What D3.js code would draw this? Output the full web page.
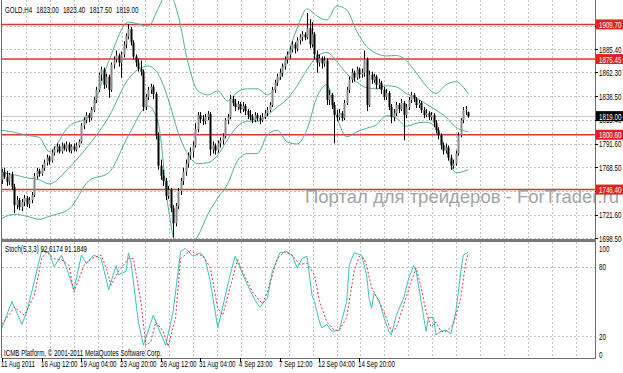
<!DOCTYPE html>
<html>
<head>
<meta charset="utf-8">
<script src="https://cdnjs.cloudflare.com/ajax/libs/d3/7.8.5/d3.min.js"></script>
<style>
  body { margin: 0; background: #fff; }
  svg { display: block; }
  text { font-family: "Liberation Sans", Arial, sans-serif; }
</style>
</head>
<body>
<svg id="chart"></svg>
<script>
// ---- data ----
const symbol = "GOLD,H4";
const lastQuote = ["1823.00", "1823.40", "1817.50", "1819.00"];

// H4 bars: [open, high, low, close]
const ohlc = [
  [1756,1767,1752,1764],[1764,1768,1757,1759],[1759,1765,1750,1754],[1754,1763,1751,1761],[1761,1764,1746,1749],
  [1749,1752,1723,1731],[1731,1740,1727,1736],[1736,1738,1726,1729],[1729,1737,1725,1734],[1734,1741,1730,1738],
  [1738,1740,1729,1732],[1732,1739,1728,1736],[1736,1744,1733,1741],[1741,1763,1739,1760],[1760,1768,1757,1765],
  [1765,1767,1759,1762],[1762,1771,1760,1768],[1768,1776,1765,1773],[1773,1781,1770,1778],[1778,1780,1771,1775],
  [1775,1786,1773,1783],[1783,1789,1780,1786],[1786,1792,1783,1789],[1789,1791,1782,1784],[1784,1793,1782,1790],
  [1790,1792,1785,1787],[1787,1794,1784,1791],[1791,1793,1783,1785],[1785,1791,1782,1789],[1789,1792,1784,1786],
  [1786,1793,1784,1790],[1790,1796,1788,1794],[1794,1812,1792,1810],[1810,1818,1806,1815],[1815,1823,1812,1820],
  [1820,1822,1813,1817],[1817,1828,1815,1825],[1825,1838,1823,1835],[1835,1848,1832,1845],[1845,1862,1843,1860],
  [1860,1868,1854,1865],[1865,1867,1846,1850],[1850,1861,1847,1858],[1858,1860,1837,1845],[1845,1872,1843,1870],
  [1870,1878,1866,1875],[1875,1884,1872,1879],[1879,1881,1868,1872],[1872,1883,1857,1880],[1880,1893,1877,1890],
  [1890,1901,1886,1898],[1898,1910,1895,1905],[1905,1907,1889,1892],[1892,1894,1875,1878],[1878,1880,1868,1872],
  [1872,1876,1863,1866],[1866,1874,1859,1863],[1863,1865,1824,1828],[1828,1841,1825,1838],[1838,1848,1835,1845],
  [1845,1851,1841,1848],[1848,1850,1836,1841],[1841,1843,1796,1800],[1800,1803,1766,1770],[1770,1776,1756,1760],
  [1760,1766,1750,1755],[1755,1758,1736,1740],[1740,1750,1737,1746],[1746,1748,1724,1728],[1728,1731,1699,1713],
  [1713,1733,1710,1730],[1730,1748,1727,1745],[1745,1758,1741,1755],[1755,1768,1751,1764],[1764,1776,1760,1772],
  [1772,1783,1768,1780],[1780,1788,1776,1784],[1784,1794,1778,1790],[1790,1812,1788,1806],[1806,1823,1803,1820],
  [1820,1823,1812,1816],[1816,1820,1810,1814],[1814,1821,1811,1818],[1818,1824,1815,1821],[1821,1823,1780,1786],
  [1786,1794,1782,1790],[1790,1792,1781,1785],[1785,1795,1783,1792],[1792,1798,1788,1795],[1795,1802,1791,1799],
  [1799,1817,1797,1815],[1815,1821,1811,1818],[1818,1840,1816,1836],[1836,1839,1829,1832],[1832,1836,1824,1828],
  [1828,1834,1825,1831],[1831,1833,1822,1826],[1826,1833,1823,1829],[1829,1831,1820,1824],[1824,1826,1816,1820],
  [1820,1825,1815,1818],[1818,1821,1812,1815],[1815,1823,1813,1820],[1820,1822,1814,1817],[1817,1820,1811,1815],
  [1815,1822,1813,1818],[1818,1825,1816,1822],[1822,1828,1819,1825],[1825,1833,1823,1830],[1830,1848,1828,1845],
  [1845,1855,1842,1852],[1852,1861,1849,1858],[1858,1866,1855,1862],[1862,1871,1858,1868],[1868,1878,1865,1875],
  [1875,1883,1871,1880],[1880,1888,1876,1885],[1885,1893,1882,1890],[1890,1892,1881,1886],[1886,1897,1883,1894],
  [1894,1900,1890,1897],[1897,1903,1893,1900],[1900,1902,1894,1897],[1897,1921,1895,1906],[1906,1915,1886,1890],
  [1890,1912,1887,1900],[1900,1902,1875,1880],[1880,1884,1862,1872],[1872,1880,1868,1876],[1876,1878,1866,1871],
  [1871,1878,1868,1874],[1874,1876,1830,1835],[1835,1845,1830,1840],[1840,1842,1826,1830],[1830,1833,1792,1820],
  [1820,1825,1814,1818],[1818,1826,1815,1822],[1822,1824,1814,1817],[1817,1835,1815,1832],[1832,1848,1830,1845],
  [1845,1858,1842,1855],[1855,1866,1852,1862],[1862,1864,1853,1857],[1857,1868,1855,1865],[1865,1867,1856,1860],
  [1860,1866,1857,1862],[1862,1884,1858,1875],[1875,1877,1824,1830],[1830,1864,1828,1860],[1860,1863,1851,1855],
  [1855,1861,1852,1858],[1858,1860,1846,1850],[1850,1856,1846,1852],[1852,1854,1841,1845],[1845,1848,1835,1838],
  [1838,1846,1835,1842],[1842,1844,1825,1828],[1828,1831,1812,1818],[1818,1826,1814,1822],[1822,1833,1819,1830],
  [1830,1832,1822,1826],[1826,1836,1824,1832],[1832,1834,1795,1820],[1820,1831,1817,1828],[1828,1838,1825,1835],
  [1835,1843,1832,1840],[1840,1842,1833,1836],[1836,1838,1827,1830],[1830,1835,1827,1832],[1832,1834,1822,1825],
  [1825,1828,1817,1820],[1820,1826,1818,1822],[1822,1824,1815,1818],[1818,1823,1815,1820],[1820,1822,1808,1812],
  [1812,1815,1802,1805],[1805,1808,1796,1800],[1800,1802,1786,1790],[1790,1793,1781,1785],[1785,1792,1782,1788],
  [1788,1790,1775,1778],[1778,1781,1766,1770],[1770,1776,1767,1772],[1772,1785,1770,1782],[1782,1803,1780,1800],
  [1800,1817,1798,1815],[1815,1828,1812,1825],[1825,1829,1820,1826],[1823,1823.4,1817.5,1819]
];

// Bollinger Bands (20,2), sampled at these bars
const bbBars   = [0,5,10,15,19,27,35,43,51,59,63,67,71,75,79,83,87,91,95,99,103,107,111,115,119,123,127,131,135,139,143,147,151,155,159,163,167,171,175,179,183,188];
const bbUpper  = [1805,1803,1800,1798,1784,1809,1819,1873,1912,1908,1925.5,1942.5,1919,1872,1844,1840,1844,1834,1843,1846,1846,1840,1851,1878,1906,1925,1918,1914,1928,1924,1903,1888,1881,1878.5,1879,1874,1862,1849,1841.5,1850,1853,1841];
const bbMiddle = [1763,1761,1758,1756,1752,1768,1790.5,1818,1856,1868.5,1860.5,1836,1803,1781,1772,1773,1780.5,1796,1809,1814,1814,1820,1828,1836,1849,1865,1878,1882,1873,1861,1853,1847,1846,1849,1848,1841.5,1837,1831,1825,1818,1808,1803.6];
const bbLower  = [1718,1722,1720,1717,1720,1727,1755,1763,1800,1829,1812,1729,1686.5,1690,1700.5,1722,1738,1752,1775,1782,1782,1800.5,1805,1793.5,1791.5,1806,1838,1850,1818,1798.5,1803.5,1807,1810.5,1819.5,1817,1809,1812,1813,1808,1786,1763,1766];

// Stochastic (5,3,3)
const stochMainBars = [0,4,8,10,13,16,19,21,24,26,29,32,34,37,40,43,46,47,50,51,52,55,57,61,63,66,69,72,74,77,80,82,84,87,88,92,94,96,99,102,104,107,109,112,115,117,119,121,123,125,126,128,129,131,133,136,139,140,142,145,147,148,149,150,152,154,156,157,159,162,164,166,167,169,171,172,174,175,177,179,181,183,185,186,188];
const stochMain     = [27,50,30,41,67,94,92,80,90,79,60,90,83,90,87,60,81,73,76,92,84,32,12,38,27,12,41,93,96,89,92,86,67,27,36,73,89,79,64,51,45,53,76,92,93,90,79,87,89,55,50,32,27,30,24,25,50,81,92,90,73,53,44,57,51,36,24,21,38,53,70,81,76,50,24,36,36,21,24,25,22,41,76,90,92.6174];
const stochSignalBars = [0,5,9,13,16,18,21,24,27,29,33,36,40,42,44,47,51,53,56,58,60,62,65,67,70,72,76,79,81,84,87,89,92,95,97,101,105,107,111,114,117,120,123,126,128,131,134,136,139,142,144,146,147,149,152,154,157,159,162,165,167,169,171,173,175,177,179,182,185,187,188];
const stochSignal     = [30,45,38,55,87,93,87,86,81,58,81,87,90,79,64,76,87,87,50,12,15,32,24,11,36,87,94,90,90,79,44,38,62,86,76,58,48,58,87,93,90,82,83,73,50,32,25,25,36,76,89,87,81,62,50,41,24,27,47,67,79,62,41,28,32,24,24,30,53,84,91.1849];
const stochLevels = [80, 20];
const stochScaleLabels = [100, 80, 20, 0];

const priceTicks = [1908.5, 1885.4, 1862.3, 1838.5, 1815.4, 1791.6, 1768.5, 1745.4, 1721.6, 1698.5];
const levelLines = [1909.70, 1875.45, 1800.60, 1746.40];

const timeLabels = ["11 Aug 2011", "16 Aug 12:00", "19 Aug 04:00", "23 Aug 20:00", "26 Aug 12:00",
                    "31 Aug 04:00", "4 Sep 23:00", "7 Sep 12:00", "12 Sep 04:00", "14 Sep 20:00"];
const timeLabelBars = [0, 16, 32, 48, 64, 80, 96, 112, 128, 144];

// ---- layout ----
const W = 623, H = 373;
const left = 2, axisX = 595;
const mainBottom = 239, subTop = 242, subBottom = 358;
const SX = 0.69;          // screenshot text is squeezed horizontally
const gridStep = 23.9;

const svg = d3.select("#chart").attr("width", W).attr("height", H);

const x = d3.scaleLinear().domain([0, 188]).range([2, 2 + 188 * 2.48]);
const y = d3.scaleLinear().domain([1698.5, 1885.4]).range([238, 49]);
const ys = d3.scaleLinear().domain([0, 100]).range([359.1, 243.6]);

const defs = svg.append("defs");
defs.append("clipPath").attr("id", "clipMain")
  .append("rect").attr("x", left).attr("y", 0).attr("width", axisX - left).attr("height", mainBottom);
defs.append("clipPath").attr("id", "clipSub")
  .append("rect").attr("x", left).attr("y", subTop).attr("width", axisX - left).attr("height", subBottom - subTop);

function label(g, tx, ty, txt, size, fill) {
  return g.append("text")
    .attr("transform", `translate(${tx},${ty}) scale(${SX},1)`)
    .attr("font-size", size)
    .attr("fill", fill || "#000")
    .text(txt);
}

// ---- grid ----
const grid = svg.append("g").attr("stroke", "#c4c4c4").attr("stroke-dasharray", "2,2").attr("stroke-width", 1);
d3.range(left + gridStep, axisX - 5, gridStep).forEach(gx => {
  const px = Math.round(gx) + 0.5;
  grid.append("line").attr("x1", px).attr("x2", px).attr("y1", 0).attr("y2", mainBottom);
  grid.append("line").attr("x1", px).attr("x2", px).attr("y1", subTop).attr("y2", subBottom);
});
priceTicks.forEach(p => {
  const py = Math.round(y(p)) + 0.5;
  grid.append("line").attr("x1", left).attr("x2", axisX).attr("y1", py).attr("y2", py);
});
stochLevels.forEach(v => {
  const py = Math.round(ys(v)) + 0.5;
  grid.append("line").attr("x1", left).attr("x2", axisX).attr("y1", py).attr("y2", py);
});

// ---- main panel ----
const main = svg.append("g").attr("clip-path", "url(#clipMain)");

// current price line
main.append("line").attr("x1", left).attr("x2", axisX)
  .attr("y1", Math.round(y(+lastQuote[3])) + 0.5).attr("y2", Math.round(y(+lastQuote[3])) + 0.5)
  .attr("stroke", "#c8c8c8");

// horizontal level lines
main.selectAll("line.lvl").data(levelLines).join("line")
  .attr("class", "lvl")
  .attr("x1", left).attr("x2", axisX)
  .attr("y1", d => y(d)).attr("y2", d => y(d))
  .attr("stroke", "#d83636").attr("stroke-width", 1.5);

// Bollinger bands
const bbLine = arr => d3.line()
  .x((d, i) => x(bbBars[i])).y(d => y(d))
  .curve(d3.curveMonotoneX)(arr);
[bbUpper, bbMiddle, bbLower].forEach(arr => {
  main.append("path").attr("d", bbLine(arr))
    .attr("fill", "none").attr("stroke", "#52b08e").attr("stroke-width", 1);
});

// candles
const candles = main.append("g");
ohlc.forEach((b, i) => {
  const [o, h, l, c] = b;
  const cx = Math.round(x(i));
  candles.append("line")
    .attr("x1", cx + 0.5).attr("x2", cx + 0.5)
    .attr("y1", y(h)).attr("y2", y(l))
    .attr("stroke", "#000").attr("stroke-width", 1);
  const top = y(Math.max(o, c)), bot = y(Math.min(o, c));
  candles.append("rect")
    .attr("x", cx - 0.5).attr("width", 2)
    .attr("y", top).attr("height", Math.max(1, bot - top))
    .attr("fill", c >= o ? "#8a8a8a" : "#000");
});

// watermark (runs to the right edge of the picture, as in the screenshot)
svg.append("text")
  .attr("x", 305).attr("y", 203)
  .attr("font-size", 19)
  .attr("textLength", 314)
  .attr("lengthAdjust", "spacingAndGlyphs")
  .attr("fill", "#a3a3a3")
  .text("Портал для трейдеров - ForTrader.ru");

// title
label(svg, 5, 13, `${symbol}  ${lastQuote.join(" ")}`, 9).attr("word-spacing", 3.5);

// ---- stochastic panel ----
const sub = svg.append("g").attr("clip-path", "url(#clipSub)");
const stLine = (bars, vals) => d3.line().x((d, i) => x(bars[i])).y(d => ys(d))(vals);
sub.append("path").attr("d", stLine(stochMainBars, stochMain))
  .attr("fill", "none").attr("stroke", "#3fbfbf").attr("stroke-width", 1);
sub.append("path").attr("d", stLine(stochSignalBars, stochSignal))
  .attr("fill", "none").attr("stroke", "#d83a3a").attr("stroke-width", 1).attr("stroke-dasharray", "2,2");

label(svg, 5, 252, `Stoch(5,3,3) ${stochMain[stochMain.length - 1]} ${stochSignal[stochSignal.length - 1]}`, 9);
label(svg, 4, 356, "ICMB Platform, © 2001-2011 MetaQuotes Software Corp.", 9);

// ---- frame ----
const frame = svg.append("g").attr("stroke", "#6e6e6e").attr("fill", "none");
frame.append("line").attr("x1", left - 0.5).attr("x2", left - 0.5).attr("y1", 0).attr("y2", subBottom);
frame.append("line").attr("x1", axisX + 0.5).attr("x2", axisX + 0.5).attr("y1", 0).attr("y2", subBottom + 1);
frame.append("line").attr("x1", left).attr("x2", axisX).attr("y1", subBottom + 0.5).attr("y2", subBottom + 0.5);
svg.append("rect").attr("x", left - 1).attr("y", mainBottom).attr("width", axisX - left + 2).attr("height", 3)
  .attr("fill", "#7a7a7a");

// ---- price axis ----
const axisG = svg.append("g");
const coveredTicks = [1908.5, 1745.4];   // hidden behind the level tags
priceTicks.forEach(p => {
  const py = y(p);
  axisG.append("line").attr("x1", axisX).attr("x2", axisX + 3)
    .attr("y1", Math.round(py) + 0.5).attr("y2", Math.round(py) + 0.5).attr("stroke", "#000");
  if (coveredTicks.includes(p)) return;
  label(axisG, axisX + 4, py + 3.5, d3.format(".2f")(p), 9);
});
stochScaleLabels.forEach(v => {
  let py = ys(v) + 3.5;
  if (v === 100) py = ys(v) + 8;
  if (v === 0) py = ys(v) - 1.5;
  label(axisG, axisX + 4, py, String(v), 9);
});

// level / price tags on the axis
levelLines.forEach(p => {
  axisG.append("rect").attr("x", axisX + 1).attr("y", y(p) - 5).attr("width", W - axisX).attr("height", 10)
    .attr("fill", "#e0221e");
  label(axisG, axisX + 4, y(p) + 3.5, d3.format(".2f")(p), 9, "#fff");
});
axisG.append("rect").attr("x", axisX + 1).attr("y", y(+lastQuote[3]) - 5).attr("width", W - axisX).attr("height", 10)
  .attr("fill", "#000");
label(axisG, axisX + 4, y(+lastQuote[3]) + 3.5, lastQuote[3], 9, "#fff");

// ---- time axis ----
timeLabels.forEach((t, i) => {
  const tx = Math.round(x(timeLabelBars[i]));
  svg.append("line").attr("x1", tx + 0.5).attr("x2", tx + 0.5).attr("y1", subBottom).attr("y2", subBottom + 4)
    .attr("stroke", "#000");
  label(svg, Math.max(1, tx - 1), 367, t, 9);
});
</script>
</body>
</html>
